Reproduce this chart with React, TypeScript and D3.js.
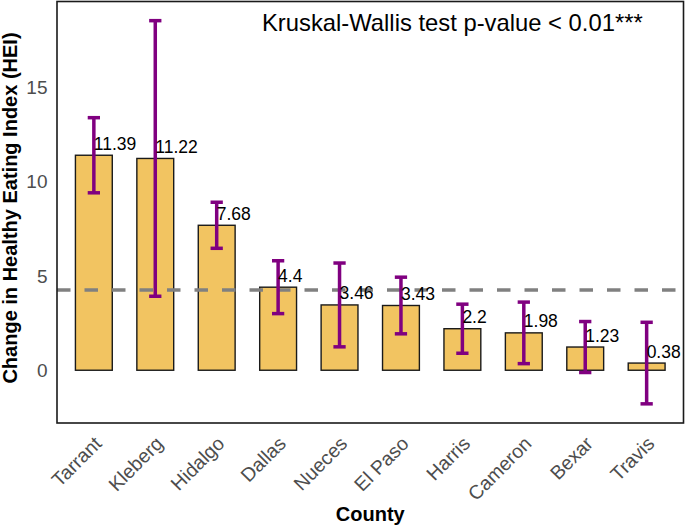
import { useRef, useEffect } from "react";
import * as d3 from "d3";

// county means, sorted high -> low
const counties = [
  "Tarrant",
  "Kleberg",
  "Hidalgo",
  "Dallas",
  "Nueces",
  "El Paso",
  "Harris",
  "Cameron",
  "Bexar",
  "Travis",
];
const meanChange = [11.39, 11.22, 7.68, 4.4, 3.46, 3.43, 2.2, 1.98, 1.23, 0.38];
// half-width of the error bars
const errHalf = [1.99, 7.3, 1.22, 1.4, 2.22, 1.5, 1.3, 1.63, 1.35, 2.16];
const yTicks = [0, 5, 10, 15];
const overallMean = 4.25;
const testLabel = "Kruskal-Wallis test p-value < 0.01***";

const W = 688;
const H = 530;
const margin = { top: 1.5, right: 4.5, bottom: 107, left: 57 };

const App = () => {
  const svgRef = useRef<SVGSVGElement>(null);

  useEffect(() => {
    const svg = d3.select(svgRef.current);
    svg.selectAll("*").remove();
    svg.style("font-family", "'Liberation Sans', Arial, sans-serif");

    const rows = counties.map((c, i) => ({
      county: c,
      mean: meanChange[i],
      lo: meanChange[i] - errHalf[i],
      hi: meanChange[i] + errHalf[i],
    }));

    const x0 = margin.left;
    const x1 = W - margin.right;
    const yTop = margin.top;
    const yBot = H - margin.bottom;

    // ggplot-like 5% expansion
    const lo = Math.min(0, d3.min(rows, (d) => d.lo)!);
    const hi = d3.max(rows, (d) => d.hi)!;
    const pad = (hi - lo) * 0.05;

    const x = d3
      .scaleBand<string>()
      .domain(counties)
      .range([x0, x1])
      .paddingInner(0.4)
      .paddingOuter(0.3);
    const y = d3
      .scaleLinear()
      .domain([lo - pad, hi + pad])
      .range([yBot, yTop]);

    const cx = (c: string) => x(c)! + x.bandwidth() / 2;

    // bars
    svg
      .append("g")
      .selectAll("rect")
      .data(rows)
      .join("rect")
      .attr("x", (d) => x(d.county)!)
      .attr("width", x.bandwidth())
      .attr("y", (d) => y(Math.max(0, d.mean)))
      .attr("height", (d) => Math.abs(y(d.mean) - y(0)))
      .attr("fill", "#F2C461")
      .attr("stroke", "#1a1a1a")
      .attr("stroke-width", 1.4);

    // overall mean line
    svg
      .append("line")
      .attr("x1", x0)
      .attr("x2", x1)
      .attr("y1", y(overallMean))
      .attr("y2", y(overallMean))
      .attr("stroke", "#808080")
      .attr("stroke-width", 3.5)
      .attr("stroke-dasharray", "13.5 14");

    // error bars
    const capW = x.step() * 0.1;
    const eb = svg
      .append("g")
      .attr("stroke", "#800080")
      .attr("stroke-width", 3.5)
      .selectAll("g")
      .data(rows)
      .join("g");
    eb.append("line")
      .attr("x1", (d) => cx(d.county))
      .attr("x2", (d) => cx(d.county))
      .attr("y1", (d) => y(d.lo))
      .attr("y2", (d) => y(d.hi));
    eb.append("line")
      .attr("x1", (d) => cx(d.county) - capW)
      .attr("x2", (d) => cx(d.county) + capW)
      .attr("y1", (d) => y(d.hi))
      .attr("y2", (d) => y(d.hi));
    eb.append("line")
      .attr("x1", (d) => cx(d.county) - capW)
      .attr("x2", (d) => cx(d.county) + capW)
      .attr("y1", (d) => y(d.lo))
      .attr("y2", (d) => y(d.lo));

    // value labels
    svg
      .append("g")
      .selectAll("text")
      .data(rows)
      .join("text")
      .attr("x", (d) => cx(d.county))
      .attr("y", (d) => y(d.mean) - 5.5)
      .attr("font-size", 17.5)
      .attr("fill", "#000")
      .text((d) => String(d.mean));

    // panel border
    svg
      .append("rect")
      .attr("x", x0)
      .attr("y", yTop)
      .attr("width", x1 - x0)
      .attr("height", yBot - yTop)
      .attr("fill", "none")
      .attr("stroke", "#1a1a1a")
      .attr("stroke-width", 1.6);

    // y tick labels
    svg
      .append("g")
      .selectAll("text")
      .data(yTicks)
      .join("text")
      .attr("x", x0 - 9.5)
      .attr("y", (d) => y(d))
      .attr("dy", "0.35em")
      .attr("text-anchor", "end")
      .attr("font-size", 19)
      .attr("fill", "#4D4D4D")
      .text((d) => d);

    // x tick labels, rotated 45
    svg
      .append("g")
      .selectAll("text")
      .data(counties)
      .join("text")
      .attr("transform", (d) => `translate(${cx(d) - 1},${yBot + 12}) rotate(-45)`)
      .attr("text-anchor", "end")
      .attr("dy", "0.72em")
      .attr("font-size", 19.5)
      .attr("fill", "#4D4D4D")
      .text((d) => d);

    // axis titles
    svg
      .append("text")
      .attr("x", (x0 + x1) / 2)
      .attr("y", 521)
      .attr("text-anchor", "middle")
      .attr("font-size", 20)
      .attr("font-weight", "bold")
      .text("County");
    svg
      .append("text")
      .attr("transform", `translate(16.5,208) rotate(-90)`)
      .attr("text-anchor", "middle")
      .attr("font-size", 20)
      .attr("font-weight", "bold")
      .text("Change in Healthy Eating Index (HEI)");

    // test annotation
    svg
      .append("text")
      .attr("x", 262)
      .attr("y", 30.5)
      .attr("font-size", 23.8)
      .attr("fill", "#000")
      .text(testLabel);

    return () => {
      svg.selectAll("*").remove();
    };
  }, []);

  return (
    <svg
      ref={svgRef}
      width={W}
      height={H}
      style={{ position: "absolute", left: 0, top: 0, background: "#fff" }}
    ></svg>
  );
};

export default App;
